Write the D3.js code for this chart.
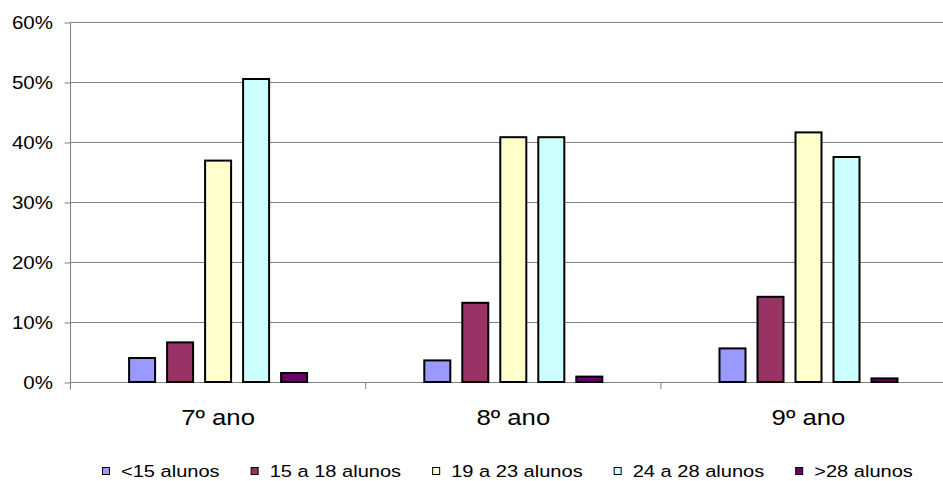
<!DOCTYPE html>
<html><head><meta charset="utf-8">
<script src="https://cdn.jsdelivr.net/npm/d3@7"></script>
<style>body{margin:0;background:#fff}svg{display:block}text{font-family:"Liberation Sans",Arial,sans-serif;fill:#000}</style>
</head><body>
<svg id="c" width="943" height="481"></svg>
<script>
const categories = ["7º ano", "8º ano", "9º ano"];
const seriesNames = ["<15 alunos", "15 a 18 alunos", "19 a 23 alunos", "24 a 28 alunos", ">28 alunos"];
const seriesColors = ["#9999FF", "#993366", "#FFFFCC", "#CCFFFF", "#660066"];
const lt15 = [4.0, 3.6, 5.6];
const s15to18 = [6.6, 13.2, 14.2];
const s19to23 = [36.9, 40.8, 41.6];
const s24to28 = [50.5, 40.8, 37.5];
const gt28 = [1.5, 0.9, 0.6];
const yTicks = [0, 10, 20, 30, 40, 50, 60];
const seriesValues = [lt15, s15to18, s19to23, s24to28, gt28];

(function(){
const svg = d3.select("#c");
const pl = 70.5, pt = 22, pb = 382, catW = 295.2;
const x0 = d3.scaleBand().domain(categories).range([pl, pl + catW * categories.length]).padding(0);
const x1 = d3.scaleBand().domain(seriesNames).range([0, x0.bandwidth()]).paddingInner(10/38).paddingOuter(1.516);
const y = d3.scaleLinear().domain([0, 60]).range([pb, pt]);

// gridlines
svg.append("g").selectAll("line").data(yTicks.filter(d => d > 0)).join("line")
  .attr("x1", pl).attr("x2", 943)
  .attr("y1", d => Math.round(y(d)) + 0.5).attr("y2", d => Math.round(y(d)) + 0.5)
  .attr("stroke", "#808080").attr("stroke-width", 1);

// y axis
const yAxis = svg.append("g").attr("transform", `translate(${pl},0.5)`)
  .call(d3.axisLeft(y).tickValues(yTicks).tickSize(6).tickFormat(d => d + "%"));
yAxis.select(".domain").attr("stroke", "#808080").attr("d", `M0,${pt}V${pb + 7}`);
yAxis.selectAll(".tick line").attr("stroke", "#808080");
yAxis.selectAll(".tick text").remove();
yTicks.forEach(t => {
  svg.append("g").attr("transform", `translate(53,${y(t) + 6.5}) scale(1.14,1)`)
    .append("text").attr("text-anchor", "end").attr("font-size", 18).text(t + "%");
});

// x axis
svg.append("line").attr("x1", pl).attr("x2", 943).attr("y1", pb + 0.5).attr("y2", pb + 0.5).attr("stroke", "#808080");
svg.append("g").selectAll("line").data(d3.range(categories.length + 1)).join("line")
  .attr("x1", i => pl + i * catW).attr("x2", i => pl + i * catW)
  .attr("y1", pb).attr("y2", pb + 7).attr("stroke", "#808080");
categories.forEach(c => {
  svg.append("g").attr("transform", `translate(${x0(c) + x0.bandwidth() / 2},425) scale(1.17,1)`)
    .append("text").attr("text-anchor", "middle").attr("font-size", 22).text(c);
});

// bars
const groups = svg.append("g").selectAll("g").data(categories).join("g")
  .attr("transform", c => `translate(${x0(c)},0)`);
groups.selectAll("rect").data((c, ci) => seriesNames.map((s, si) => ({s, si, v: seriesValues[si][ci]}))).join("rect")
  .attr("x", d => x1(d.s) + 1)
  .attr("width", x1.bandwidth() - 2)
  .attr("y", d => y(d.v))
  .attr("height", d => pb - y(d.v))
  .attr("fill", d => seriesColors[d.si])
  .attr("stroke", "#000").attr("stroke-width", 2);

// legend
let lx = 102;
seriesNames.forEach((s, i) => {
  svg.append("rect").attr("x", lx + 0.5).attr("y", 467.5).attr("width", 7).attr("height", 7)
    .attr("fill", seriesColors[i]).attr("stroke", "#000").attr("stroke-width", 1);
  const g = svg.append("g").attr("transform", `translate(${lx + 19},476.5) scale(1.18,1)`);
  const t = g.append("text").attr("font-size", 17).text(s);
  const w = t.node().getComputedTextLength() * 1.18;
  lx += 19 + w + 31;
});
})();
</script>
</body></html>
